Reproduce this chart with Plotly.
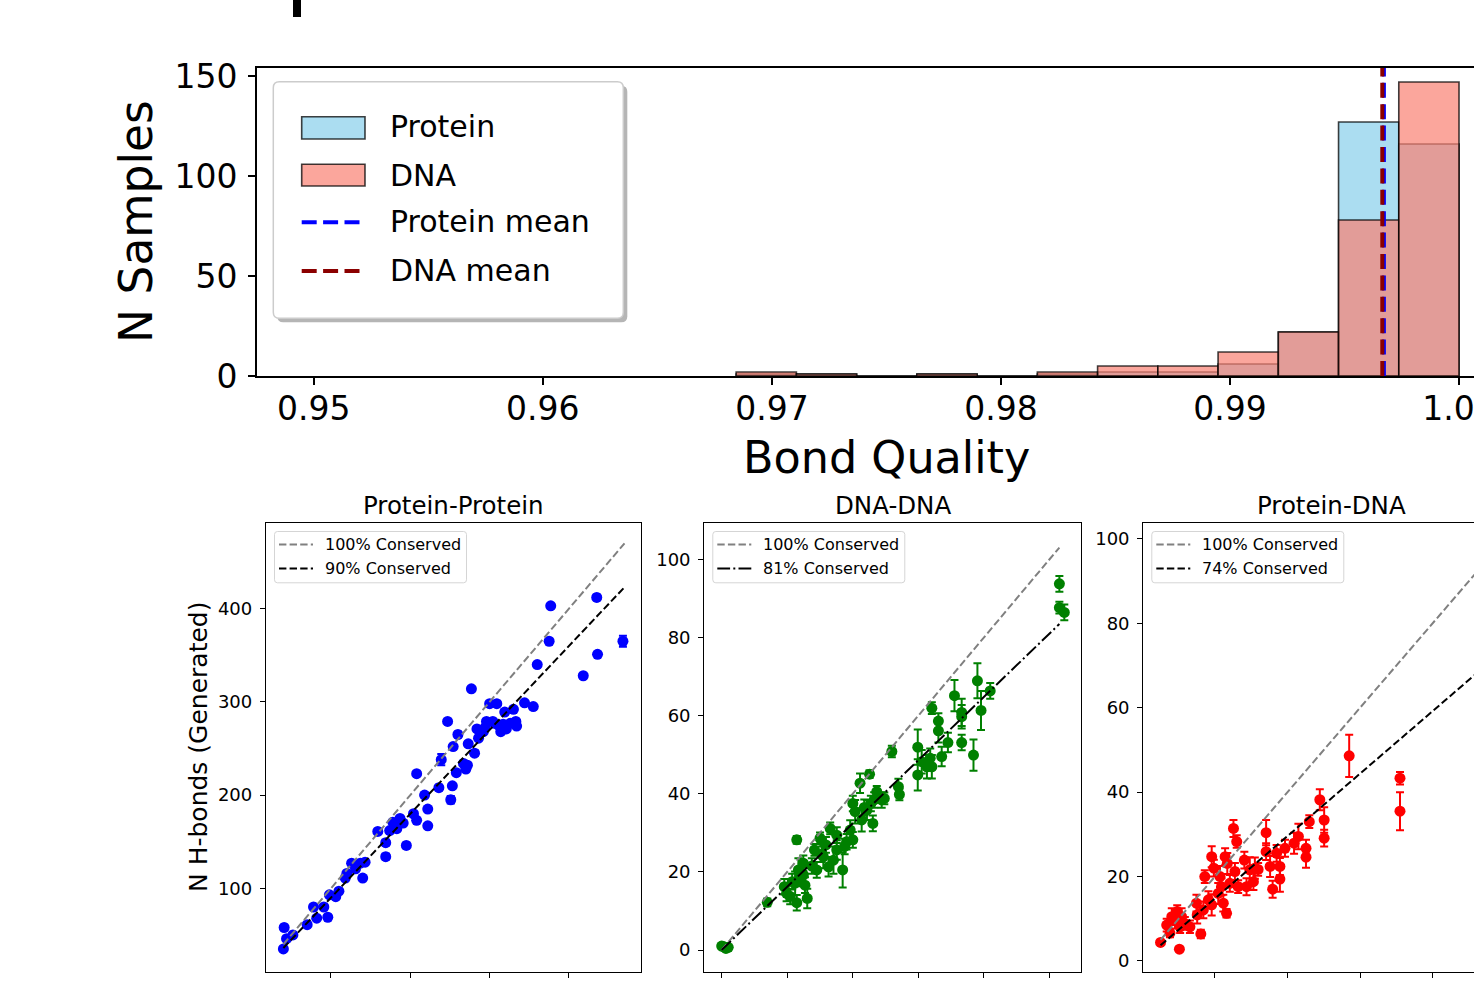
import plotly.graph_objects as go

W, H = 1474, 982
FONT = "DejaVu Sans"

# ---------------- data ----------------
bin_edges = [0.96844, 0.97107, 0.97370, 0.97633, 0.97896, 0.98159, 0.98422,
             0.98685, 0.98948, 0.99211, 0.99474, 0.99737, 1.00000]
protein_counts = [1, 1, 0, 1, 0, 1, 2, 2, 6, 22, 127, 116]
dna_counts = [2, 1, 0, 1, 0, 2, 5, 5, 12, 22, 78, 147]
protein_mean = 0.99672
dna_mean = 0.99665
hist_xticks = [0.95, 0.96, 0.97, 0.98, 0.99, 1.00]
hist_xticklabels = ["0.95", "0.96", "0.97", "0.98", "0.99", "1.00"]
hist_yticks = [0, 50, 100, 150]

# Protein-Protein
pp_ref = [40, 41, 44, 52, 70, 78, 82, 91, 96, 98, 106, 110, 118, 120, 126, 131, 137, 140, 143, 159,
          169, 169, 174, 178, 183, 187, 191, 195, 204, 208, 218, 222, 222, 208, 236, 239, 247, 251, 253, 254,
          258, 260, 267, 270, 272, 273, 277, 281, 284, 286, 292, 296, 300, 304, 309, 311, 314, 319, 321, 326,
          330, 333, 334, 344, 355, 360, 375, 377, 418, 435, 436, 468, 294, 306, 317]
pp_gen = [35, 58, 46, 50, 61, 80, 68, 80, 69, 93, 91, 97, 111, 116, 127, 121, 127, 111, 128, 161,
          149, 134, 162, 171, 164, 175, 170, 146, 180, 173, 200, 185, 167, 223, 208, 238, 279, 195, 210, 252,
          224, 265, 234, 228, 232, 255, 314, 245, 271, 261, 268, 279, 298, 279, 298, 275, 268, 289, 271, 277,
          292, 279, 274, 299, 295, 340, 365, 403, 328, 412, 351, 365, 272, 277, 276]
pp_err = [2, 2, 2, 2, 2, 2, 2, 2, 2, 2, 2, 2, 2, 2, 2, 2, 2, 2, 2, 2,
          3, 3, 2, 2, 2, 2, 2, 3, 2, 2, 2, 2, 2, 2, 3, 6, 2, 4, 2, 2,
          2, 3, 2, 2, 2, 2, 2, 3, 2, 2, 2, 2, 2, 2, 2, 2, 2, 2, 2, 2,
          2, 2, 2, 2, 2, 2, 2, 2, 2, 3, 2, 6, 2, 2, 2]
pp_ratio = 0.90
pp_line_x = [40, 470]

# DNA-DNA
dd_ref = [0.0, 0.5, 1.3, 2.0, 13.9, 19.1, 19.8, 20.9, 22.9, 22.9, 22.4, 23.4, 23.9, 24.9, 25.4, 26.1, 24.9,
          28.3, 29.0, 30.0, 31.0, 31.8, 32.6, 33.1, 34.1, 35.1, 35.1, 36.9, 38.1, 39.2, 40.0, 40.0, 40.7,
          42.2, 42.7, 44.3, 45.1, 46.1, 46.5, 47.3, 48.8, 49.6, 51.9, 53.9, 54.2, 59.8, 59.8, 61.0, 62.6,
          63.6, 64.1, 64.1, 66.1, 66.1, 67.1, 69.0, 71.0, 73.2, 73.2, 73.2, 76.8, 78.0, 79.1, 81.9,
          103.0, 103.0, 104.5, 21.5, 27.5, 30.5, 37.5, 43.5, 45.5, 63.0]
dd_gen = [1.0, 0.9, 0.4, 0.7, 12.2, 16.2, 14.5, 13.7, 12.1, 28.2, 17.1, 20.5, 18.8, 22.2, 16.6, 13.2, 19.2,
          25.6, 20.5, 28.6, 23.9, 26.9, 21.3, 31.1, 23.0, 29.4, 25.6, 20.5, 27.7, 30.7, 28.2, 37.5, 35.4,
          42.7, 33.3, 35.8, 45.0, 32.4, 38.4, 40.5, 38.4, 38.8, 50.8, 41.8, 39.8, 51.9, 44.8, 48.2, 46.9,
          49.1, 46.9, 61.9, 58.6, 56.1, 49.5, 53.1, 65.1, 59.7, 60.8, 53.1, 49.9, 68.9, 61.3, 66.3,
          93.7, 87.6, 86.4, 17.5, 21.5, 24.5, 26.5, 36.5, 37.5, 48.0]
dd_err = [0.5, 0.5, 0.5, 0.5, 1.0, 2.0, 2.0, 2.0, 2.0, 1.0, 3.0, 3.0, 2.5, 2.0, 2.0, 2.5, 2.0,
          1.5, 2.0, 1.5, 3.0, 2.0, 2.5, 1.5, 3.5, 2.0, 2.5, 4.5, 2.0, 2.5, 2.0, 2.0, 3.0,
          2.5, 3.0, 2.5, 1.0, 2.0, 2.0, 1.5, 2.0, 1.5, 1.5, 2.0, 1.5, 4.5, 4.0, 3.0, 3.0,
          2.5, 3.0, 1.5, 2.0, 3.0, 2.5, 2.5, 4.0, 3.0, 3.5, 2.0, 4.0, 4.5, 5.0, 2.0,
          2.0, 1.5, 2.0, 2.0, 2.0, 2.0, 2.0, 2.0, 2.0, 2.0]
dd_ratio = 0.81
dd_line_x = [0, 103]

# Protein-DNA
pd_ref = [5.0, 10.2, 6.7, 7.6, 8.1, 9.0, 9.6, 10.4, 10.8, 11.7, 13.1, 14.9, 15.1, 16.1, 16.8, 17.2, 18.2,
          19.1, 19.7, 19.1, 20.9, 21.4, 21.8, 22.3, 22.8, 23.2, 23.4, 24.1, 25.1, 25.5, 26.0, 26.4, 28.1,
          28.7, 29.6, 30.6, 31.0, 31.9, 34.1, 34.1, 35.2, 35.9, 37.0, 37.9, 37.9, 39.3, 41.8, 43.0, 45.1,
          45.1, 46.0, 48.9, 50.1, 50.1, 57.0, 71.0, 71.0]
pd_gen = [4.4, 2.8, 8.5, 6.6, 10.5, 9.7, 11.7, 8.1, 10.5, 8.9, 8.1, 13.7, 10.9, 6.4, 12.1, 20.0, 14.5,
          24.7, 22.0, 13.3, 16.0, 20.0, 17.6, 13.7, 24.7, 11.3, 23.1, 18.4, 31.4, 21.2, 28.3, 17.6, 23.9,
          17.6, 21.6, 18.8, 22.0, 21.7, 30.4, 25.9, 22.4, 17.0, 25.5, 22.4, 19.4, 26.7, 27.9, 29.5, 26.7,
          24.6, 33.0, 38.2, 33.4, 29.1, 48.6, 43.3, 35.5]
pd_err = [0.5, 0.5, 1.5, 1.0, 2.0, 2.0, 1.5, 1.5, 2.0, 1.5, 1.5, 2.0, 2.0, 1.0, 2.0, 1.5, 2.0,
          2.5, 2.0, 2.5, 2.5, 2.5, 2.0, 2.0, 2.0, 1.0, 2.5, 2.0, 2.0, 2.0, 1.5, 1.5, 2.0,
          2.0, 3.0, 2.0, 2.5, 1.5, 3.0, 2.0, 2.5, 2.0, 2.0, 2.0, 3.0, 2.0, 2.5, 3.0, 2.0,
          2.5, 1.5, 2.5, 3.0, 2.0, 5.0, 1.5, 4.5]
pd_ratio = 0.74
pd_line_x = [5, 99]

panel_titles = ["Protein-Protein", "DNA-DNA", "Protein-DNA"]


# ---------------- helpers ----------------
def px(x):
    return x / W


def py(y):
    return 1 - y / H


def rounded_path(L, T, R, B, r):
    pts = [("M", L + r, T), ("L", R - r, T), ("Q", R, T, R, T + r), ("L", R, B - r),
           ("Q", R, B, R - r, B), ("L", L + r, B), ("Q", L, B, L, B - r), ("L", L, T + r),
           ("Q", L, T, L + r, T)]
    s = ""
    for p in pts:
        if p[0] == "Q":
            s += f"Q {px(p[1])},{py(p[2])} {px(p[3])},{py(p[4])} "
        else:
            s += f"{p[0]} {px(p[1])},{py(p[2])} "
    return s + "Z"


fig = go.Figure()

# ---------------- histogram ----------------
centers = [(bin_edges[i] + bin_edges[i + 1]) / 2 for i in range(len(bin_edges) - 1)]
widths = [bin_edges[i + 1] - bin_edges[i] for i in range(len(bin_edges) - 1)]
PROT_FILL = "rgba(135,206,235,0.7)"
DNA_FILL = "rgba(250,128,114,0.7)"
EDGE = "rgba(0,0,0,0.75)"
fig.add_trace(go.Bar(x=centers, y=protein_counts, width=widths, marker=dict(color=PROT_FILL, line=dict(color=EDGE, width=1.6)),
                     xaxis="x", yaxis="y", name="Protein"))
fig.add_trace(go.Bar(x=centers, y=dna_counts, width=widths, marker=dict(color=DNA_FILL, line=dict(color=EDGE, width=1.6)),
                     xaxis="x", yaxis="y", name="DNA"))

MEAN_DASH = "15px,6.4px"
shapes = []
shapes.append(dict(type="line", xref="x", yref="y domain", x0=protein_mean, x1=protein_mean, y0=0, y1=1,
                   line=dict(color="blue", width=4, dash=MEAN_DASH)))
shapes.append(dict(type="line", xref="x", yref="y domain", x0=dna_mean, x1=dna_mean, y0=0, y1=1,
                   line=dict(color="darkred", width=4, dash=MEAN_DASH)))

# ---------------- scatter panels ----------------
panels = [
    (pp_ref, pp_gen, pp_err, pp_ratio, pp_line_x, "blue", "x2", "y2", "dash"),
    (dd_ref, dd_gen, dd_err, dd_ratio, dd_line_x, "green", "x3", "y3", "dashdot"),
    (pd_ref, pd_gen, pd_err, pd_ratio, pd_line_x, "red", "x4", "y4", "dash"),
]
DASH = "7.4px,3.2px"
DASHDOT = "12.8px,3.2px,2px,3.2px"
for ref, gen, err, ratio, lx, col, xa, ya, style in panels:
    fig.add_trace(go.Scatter(x=ref, y=gen, mode="markers", xaxis=xa, yaxis=ya,
                             marker=dict(color=col, size=11, line=dict(width=0)),
                             error_y=dict(type="data", array=err, color=col, thickness=2, width=4)))
    fig.add_trace(go.Scatter(x=lx, y=lx, mode="lines", xaxis=xa, yaxis=ya,
                             line=dict(color="gray", width=2, dash=DASH)))
    fig.add_trace(go.Scatter(x=lx, y=[v * ratio for v in lx], mode="lines", xaxis=xa, yaxis=ya,
                             line=dict(color="black", width=2, dash=DASH if style == "dash" else DASHDOT)))


def ax(domain, rng, tickvals=None, ticktext=None, size=18, lw=1.3, mirror=True, showlabels=True,
       ticklen=5, anchor=None, standoff=None):
    d = dict(domain=domain, range=rng, showline=True, linecolor="black", linewidth=lw, mirror=mirror,
             ticks="outside", ticklen=ticklen, tickwidth=lw, tickcolor="black", showgrid=False,
             zeroline=False, showticklabels=showlabels, automargin=False, ticklabeloverflow="allow",
             tickfont=dict(family=FONT, size=size, color="black"), anchor=anchor)
    if tickvals is not None:
        d["tickmode"] = "array"
        d["tickvals"] = tickvals
        if ticktext is not None:
            d["ticktext"] = ticktext
    if standoff is not None:
        d["ticklabelstandoff"] = standoff
    return d


bot_y = [py(971.7), py(523.3)]
fig.update_layout(
    width=W, height=H, margin=dict(l=0, r=0, t=0, b=0, autoexpand=False), autosize=False,
    paper_bgcolor="white", plot_bgcolor="white", showlegend=False, barmode="overlay",
    xaxis=ax([px(257), 1], [0.94752, 1.000654], hist_xticks, hist_xticklabels, size=33, lw=1.8,
             mirror=True, ticklen=7, anchor="y", standoff=-5),
    yaxis=ax([py(376), py(68)], [0, 154], hist_yticks, size=33, lw=1.8, mirror=False, ticklen=7,
             anchor="x", standoff=4),
    xaxis2=ax([px(266), px(640.7)], [18.1, 490.4], [100, 200, 300, 400], showlabels=False, anchor="y2"),
    yaxis2=ax(bot_y, [10.6, 491.5], [100, 200, 300, 400], anchor="x2", standoff=4),
    xaxis3=ax([px(704.3), px(1080.7)], [-5.3, 109.5], [0, 20, 40, 60, 80, 100], showlabels=False, anchor="y3"),
    yaxis3=ax(bot_y, [-5.55, 109.2], [0, 20, 40, 60, 80, 100], anchor="x3", standoff=4),
    xaxis4=ax([px(1143.3), 1], [0.25, 91.4], [20, 40, 60, 80], showlabels=False, anchor="y4"),
    yaxis4=ax(bot_y, [-2.54, 103.7], [0, 20, 40, 60, 80, 100], mirror=False, anchor="x4", standoff=4),
)
fig.layout.xaxis4.mirror = True

annotations = []


def text(x, y, s, size, xanchor="center", angle=0):
    annotations.append(dict(x=px(x), y=py(y), xref="paper", yref="paper", text=s, showarrow=False,
                            xanchor=xanchor, yanchor="middle", textangle=angle,
                            font=dict(family=FONT, size=size, color="black")))


# axis titles
text(886, 457, "Bond Quality", 44.5)
text(136, 222, "N Samples", 45.5, angle=-90)
text(198, 747, "N H-bonds (Generated)", 25, angle=-90)

# panel titles
for cx, t in zip([453.4, 892.5, 1331.5], panel_titles):
    text(cx, 505, t, 24.5)

# ---------------- top legend (manual) ----------------
shapes.append(dict(type="path", xref="paper", yref="paper", path=rounded_path(277.3, 85.7, 627.3, 322.3, 6),
                   fillcolor="rgba(120,120,120,0.55)", line=dict(width=0)))
shapes.append(dict(type="path", xref="paper", yref="paper", path=rounded_path(273.3, 81.7, 623.3, 318.3, 6),
                   fillcolor="white", line=dict(color="#cccccc", width=1.5)))
shapes.append(dict(type="rect", xref="paper", yref="paper", x0=px(301.7), x1=px(365), y0=py(139), y1=py(116.7),
                   fillcolor=PROT_FILL, line=dict(color=EDGE, width=1.6)))
shapes.append(dict(type="rect", xref="paper", yref="paper", x0=px(301.7), x1=px(365), y0=py(186), y1=py(164.3),
                   fillcolor=DNA_FILL, line=dict(color=EDGE, width=1.6)))
shapes.append(dict(type="line", xref="paper", yref="paper", x0=px(301.7), x1=px(365), y0=py(222.3), y1=py(222.3),
                   line=dict(color="blue", width=4, dash=MEAN_DASH)))
shapes.append(dict(type="line", xref="paper", yref="paper", x0=px(301.7), x1=px(365), y0=py(271), y1=py(271),
                   line=dict(color="darkred", width=4, dash=MEAN_DASH)))
for yy, s in zip([126.7, 175, 221.7, 270], ["Protein", "DNA", "Protein mean", "DNA mean"]):
    text(387.5, yy, s, 30, xanchor="left")

# ---------------- bottom legends (manual) ----------------
legend_labels = [f"{int(round(pp_ratio * 100))}% Conserved", f"{int(round(dd_ratio * 100))}% Conserved",
                 f"{int(round(pd_ratio * 100))}% Conserved"]
for left, lab, style in zip([266, 704.3, 1143.3], legend_labels, ["dash", "dashdot", "dash"]):
    L = left + 8.5
    shapes.append(dict(type="path", xref="paper", yref="paper", path=rounded_path(L, 531.5, L + 192, 582.8, 3),
                       fillcolor="rgba(255,255,255,0.8)", line=dict(color="#d5d5d5", width=1)))
    shapes.append(dict(type="line", xref="paper", yref="paper", x0=px(left + 13), x1=px(left + 47),
                       y0=py(544.5), y1=py(544.5), line=dict(color="gray", width=2, dash=DASH)))
    shapes.append(dict(type="line", xref="paper", yref="paper", x0=px(left + 13), x1=px(left + 47),
                       y0=py(568.5), y1=py(568.5),
                       line=dict(color="black", width=2, dash=DASH if style == "dash" else DASHDOT)))
    text(left + 56.5, 544.5, "100% Conserved", 16, xanchor="left")
    text(left + 56.5, 568.5, lab, 16, xanchor="left")

# cropped black mark at top-left
shapes.append(dict(type="rect", xref="paper", yref="paper", x0=px(293), x1=px(301), y0=py(17), y1=1,
                   fillcolor="black", line=dict(width=0)))

fig.update_layout(shapes=shapes, annotations=annotations)
fig.write_html("out.html")
